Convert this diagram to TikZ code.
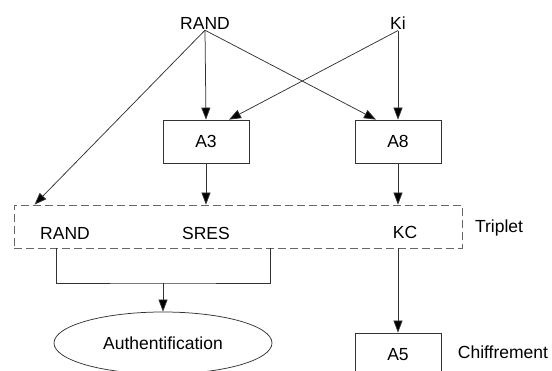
\documentclass[tikz,border=0pt]{standalone}
\usepackage{fontspec}
\setmainfont{Liberation Sans}
\usetikzlibrary{arrows.meta,shapes.geometric}
\begin{document}
\begin{tikzpicture}[x=1pt,y=-1pt,
		every node/.style={font=\fontsize{17.5}{20}\selectfont},
		algo/.style={draw=black!80,line width=0.75pt,minimum width=86pt,minimum height=43pt,inner sep=0pt},
		flow/.style={draw=black!80,line width=0.75pt,-{Triangle[length=12pt,width=9pt,fill=black]}},
		wire/.style={draw=black!80,line width=0.75pt}]
	\useasboundingbox (0,0) rectangle (552,371);
	\clip (0,0) rectangle (552,371);
	% inputs
	\node[inner sep=1pt] (rand) at (205,23) {RAND};
	\node[inner sep=1pt] (ki) at (398,23) {Ki};
	% algorithms
	\node[algo] (a3) at (206,141.5) {A3};
	\node[algo] (a8) at (398,141.5) {A8};
	% triplet
	\node[draw=black!60,dashed,dash pattern=on 8pt off 4pt,line width=0.8pt,minimum width=448pt,minimum height=43pt,inner sep=0pt] (triplet) at (238,226.5) {};
	\node (trand) at (65,233) {RAND};
	\node (sres) at (206,233) {SRES};
	\node (kc) at (405,232) {KC};
	\node (tname) at (499,228) {Triplet};
	% outputs
	\node[ellipse,wire,minimum width=218pt,minimum height=62pt,inner sep=0pt] (auth) at (163,343) {Authentification};
	\node[algo] (a5) at (398,354.5) {A5};
	\node (chiff) at (503,352) {Chiffrement};
	\coordinate (bl) at (56,248);
	\coordinate (br) at (270,248);
	\coordinate (join) at (163,283);
	% connectors
	\draw[flow] (rand.south) -- (a3.north);
	\draw[flow] (rand.south) -- ([xshift=-22pt]a8.north);
	\draw[flow] (rand.south) -- ([xshift=21pt]triplet.north west);
	\draw[flow] (ki.south) -- (a8.north);
	\draw[flow] (ki.south) -- ([xshift=23pt]a3.north);
	\draw[flow] (a3.south) -- (a3.south |- triplet.north);
	\draw[flow] (a8.south) -- (a8.south |- triplet.north);
	\draw[wire] (bl) |- (join) -| (br);
	\draw[flow] (join) -- (auth.north);
	\draw[flow] (a8.south |- triplet.south) -- (a5.north);
\end{tikzpicture}
\end{document}
